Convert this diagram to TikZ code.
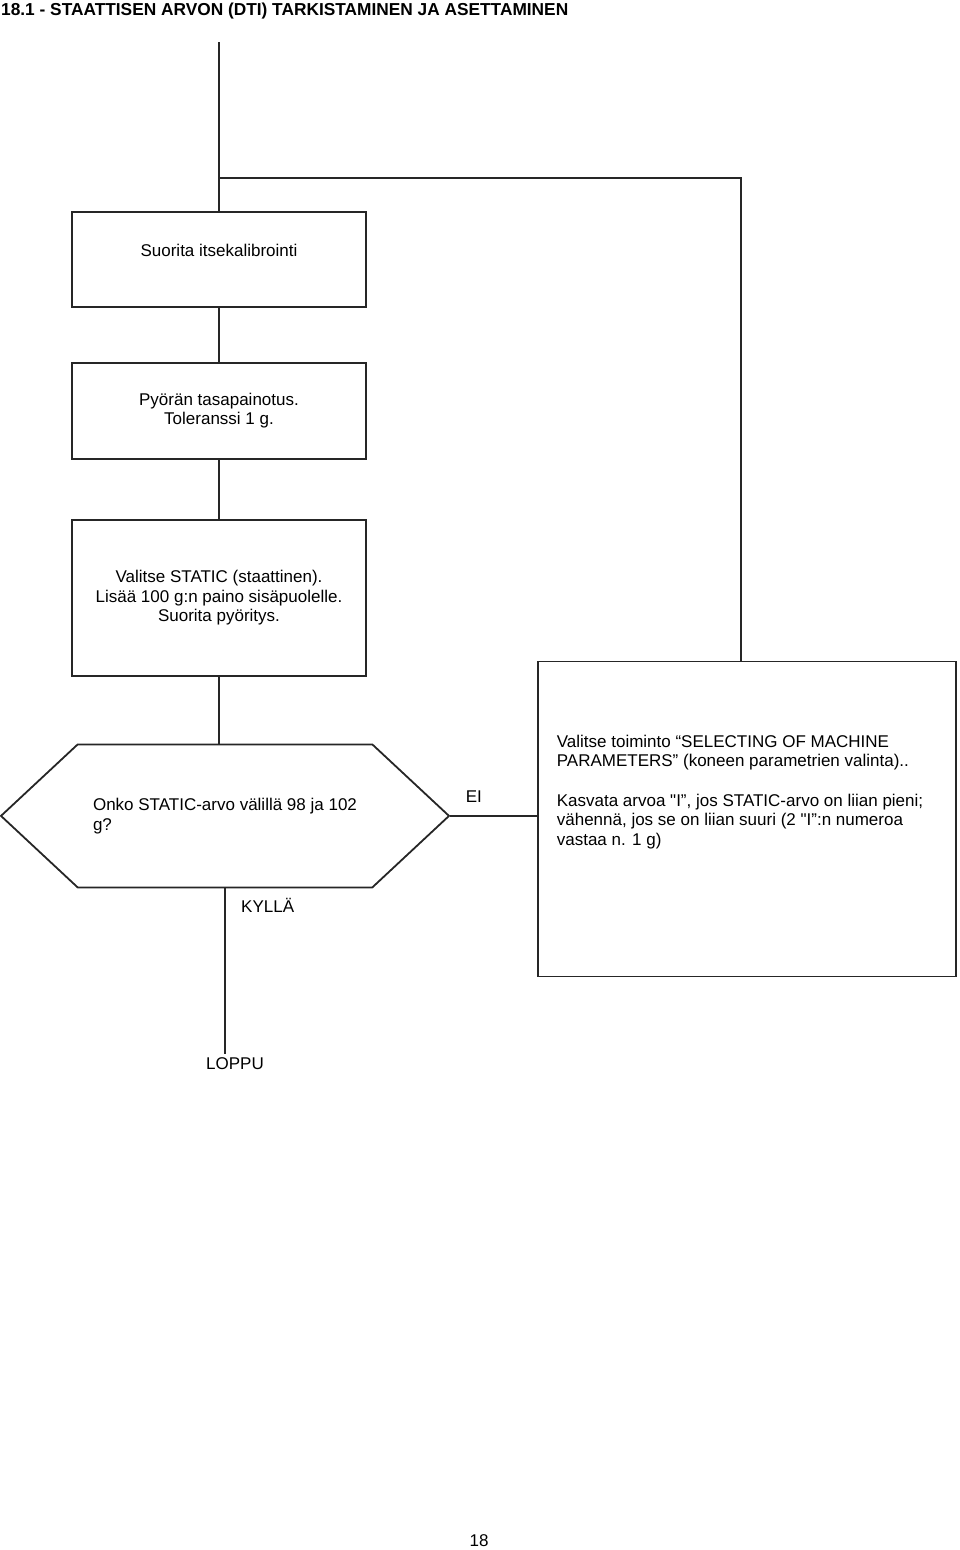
\documentclass[tikz,border=0pt]{standalone}
\usepackage{fontspec}
\setmainfont{Liberation Sans}
\usetikzlibrary{shapes.symbols, positioning}

\begin{document}
\begin{tikzpicture}[
    x=1pt, y=1pt,
    font=\fontsize{17}{19.55}\selectfont,
    connector/.style={draw=black!85, line width=1.8pt},
    process/.style={rectangle, connector, minimum width=294pt, text centered, align=center},
    decision/.style={signal, signal to=east and west, signal pointer angle=86, connector, minimum width=448pt, minimum height=143pt, align=left},
    terminal/.style={rectangle, inner sep=3pt}
]

\useasboundingbox (0,0) rectangle (960,-1550);

% Title
\node[anchor=base west, inner sep=0pt, font=\fontsize{17.3}{20}\selectfont\bfseries] (title) at (1,-15) {18.1 - STAATTISEN ARVON (DTI) TARKISTAMINEN JA ASETTAMINEN};

% Self calibration
\node[process, minimum height=95pt, text depth=18pt] (calib) at (219,-259.5) {Suorita itsekalibrointi};

% Balancing
\node[process, minimum height=96pt, below=54pt of calib] (balance) {Pyörän tasapainotus.\\ Toleranssi 1 g.};

% Static test spin
\node[process, minimum height=156pt, below=59pt of balance] (static) {Valitse STATIC (staattinen).\\ Lisää 100 g:n paino sisäpuolelle.\\ Suorita pyöritys.};

% Check value
\node[decision, below=67pt of static, xshift=6pt] (check) {Onko STATIC-arvo välillä 98 ja 102\\ g?};

% Machine parameters
\node[rectangle, connector, minimum width=418pt, minimum height=315pt, right=87pt of check, yshift=-3pt] (params) {};
\node[anchor=north west, align=left] (paramsnote) at ([xshift=16pt, yshift=-71pt]params.north west) {Valitse toiminto “SELECTING OF MACHINE\\ PARAMETERS” (koneen parametrien valinta)..\\[19.55pt] Kasvata arvoa \textquotedbl I”, jos STATIC-arvo on liian pieni;\\ vähennä, jos se on liian suuri (2 \textquotedbl I”:n numeroa\\ vastaa n. 1 g)};

% End
\node[terminal, below=166pt of check, xshift=10pt] (end) {LOPPU};

% Page number
\node (page) at (479,-1541) {18};

% Connectors
\coordinate (entry) at (219,-42);
\coordinate (loopjoin) at (219,-178);
\draw[connector] (entry) -- (calib.north);
\draw[connector] ([xshift=-6pt]params.north) |- (loopjoin);
\draw[connector] (calib) -- (balance);
\draw[connector] (balance) -- (static);
\draw[connector] (static.south) -- (static.south |- check.north);
\draw[connector] (check.east) -- node[pos=0.27, above=9pt] (no) {EI} (params.west |- check.east);
\draw[connector] (check.south) -- node[pos=0.1, right=12pt] (yes) {KYLLÄ} (check.south |- end.north);

\end{tikzpicture}
\end{document}
